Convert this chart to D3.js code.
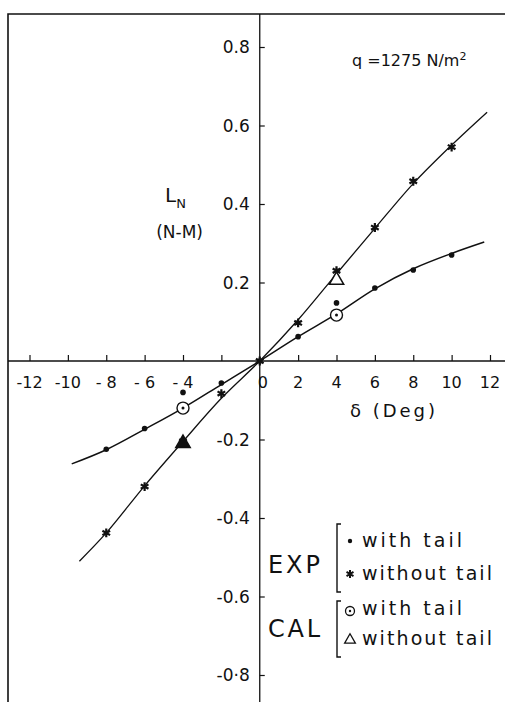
<!DOCTYPE html>
<html lang="en">
<head>
<meta charset="utf-8">
<title>Yawing moment L_N vs delta</title>
<script src="https://d3js.org/d3.v7.min.js"></script>
<style>
  body { margin: 0; background: #fff; }
  svg text { font-family: 'DejaVu Sans', sans-serif; fill: #111; }
</style>
</head>
<body>
<div id="chart"></div>
<script>
// ---- data ----
var deltaExp = [-8, -6, -4, -2, 0, 2, 4, 6, 8, 10];
var expWithTail = [-0.225, -0.172, -0.08, -0.056, 0, 0.062, 0.148, 0.186, 0.232, 0.27];
var expWithoutTail = [-0.438, -0.32, -0.205, -0.083, 0, 0.097, 0.23, 0.34, 0.458, 0.545];

var deltaCal = [-4, 4];
var calWithTail = [-0.12, 0.117];
var calWithoutTail = [-0.21, 0.206];

// faired curves drawn through the points
var fitDeltaWith = [-9.8, -8, -6, -4, -2, 0, 2, 4, 6, 8, 10, 11.7];
var fitWith = [-0.262, -0.226, -0.174, -0.12, -0.06, 0, 0.062, 0.12, 0.184, 0.235, 0.274, 0.303];
var fitDeltaWithout = [-9.4, -8, -6, -4, -2, 0, 2, 4, 6, 8, 10, 11.85];
var fitWithout = [-0.51, -0.438, -0.318, -0.205, -0.095, 0, 0.105, 0.222, 0.338, 0.452, 0.55, 0.634];

var xTicks = [-12, -10, -8, -6, -4, -2, 0, 2, 4, 6, 8, 10, 12];
var xTickLabels = ["-12", "-10", "- 8", "- 6", "- 4", "", "0", "2", "4", "6", "8", "10", "12"];
var yTicks = [-0.8, -0.6, -0.4, -0.2, 0.2, 0.4, 0.6, 0.8];
var yTickLabels = ["-0·8", "-0.6", "-0.4", "-0.2", "0.2", "0.4", "0.6", "0.8"];

// ---- layout ----
var W = 505, H = 702;
var svg = d3.select("#chart").append("svg")
  .attr("width", W).attr("height", H);

var x = d3.scaleLinear().domain([-12, 12]).range([29.5, 490]);
var y = d3.scaleLinear().domain([-0.8, 0.8]).range([675, 47]);

// frame (top and left only, like the scan)
svg.append("path")
  .attr("d", "M8,702 L8,14 L505,14")
  .attr("fill", "none").attr("stroke", "#111").attr("stroke-width", 1.6);

// x axis through zero
var xAxis = svg.append("g")
  .attr("transform", "translate(0," + y(0) + ")")
  .call(d3.axisTop(x).tickValues(xTicks).tickSize(6).tickFormat(""));
xAxis.select(".domain").attr("d", "M8,0H505").attr("stroke", "#111").attr("stroke-width", 1.6);
xAxis.selectAll(".tick line").attr("stroke", "#111").attr("stroke-width", 1.2)
  .filter(function(d) { return d === 0; }).remove();

svg.append("g").selectAll("text")
  .data(xTicks)
  .enter().append("text")
  .attr("x", function(d) { return x(d) + (d === 0 ? 3 : 0); })
  .attr("y", y(0) + 27)
  .attr("text-anchor", "middle")
  .style("font-size", "16px")
  .text(function(d, i) { return xTickLabels[i]; });

// y axis through zero
var yAxis = svg.append("g")
  .attr("transform", "translate(" + x(0) + ",0)")
  .call(d3.axisRight(y).tickValues(yTicks).tickSize(5).tickFormat(""));
yAxis.select(".domain").attr("d", "M0,14V702").attr("stroke", "#111").attr("stroke-width", 1.3);
yAxis.selectAll(".tick line").attr("stroke", "#111").attr("stroke-width", 1.2);

svg.append("g").selectAll("text")
  .data(yTicks)
  .enter().append("text")
  .attr("x", x(0) - 10)
  .attr("y", function(d) { return y(d) + 6; })
  .attr("text-anchor", "end")
  .style("font-size", "17px")
  .text(function(d, i) { return yTickLabels[i]; });

// faired curves
var line = d3.line()
  .x(function(d) { return x(d[0]); })
  .y(function(d) { return y(d[1]); })
  .curve(d3.curveCatmullRom);

svg.append("path")
  .datum(d3.zip(fitDeltaWith, fitWith))
  .attr("d", line)
  .attr("fill", "none").attr("stroke", "#111").attr("stroke-width", 1.5);

svg.append("path")
  .datum(d3.zip(fitDeltaWithout, fitWithout))
  .attr("d", line)
  .attr("fill", "none").attr("stroke", "#111").attr("stroke-width", 1.3);

// markers
var star = d3.symbol().type(d3.symbolAsterisk).size(55);
var tri = d3.symbol().type(d3.symbolTriangle).size(90);

svg.append("g").selectAll("path")
  .data(d3.zip(deltaExp, expWithoutTail))
  .enter().append("path")
  .attr("transform", function(d) { return "translate(" + x(d[0]) + "," + y(d[1]) + ")"; })
  .attr("d", star)
  .attr("fill", "none").attr("stroke", "#111").attr("stroke-width", 2.2);

svg.append("g").selectAll("circle")
  .data(d3.zip(deltaExp, expWithTail))
  .enter().append("circle")
  .attr("cx", function(d) { return x(d[0]); })
  .attr("cy", function(d) { return y(d[1]); })
  .attr("r", 2.8)
  .attr("fill", "#111");

var calC = svg.append("g").selectAll("g")
  .data(d3.zip(deltaCal, calWithTail))
  .enter().append("g")
  .attr("transform", function(d) { return "translate(" + x(d[0]) + "," + y(d[1]) + ")"; });
calC.append("circle").attr("r", 6).attr("fill", "#fff").attr("stroke", "#111").attr("stroke-width", 1.4);
calC.append("circle").attr("r", 1.5).attr("fill", "#111");

svg.append("g").selectAll("path")
  .data(d3.zip(deltaCal, calWithoutTail))
  .enter().append("path")
  .attr("transform", function(d) { return "translate(" + x(d[0]) + "," + y(d[1]) + ")"; })
  .attr("d", tri)
  .attr("fill", function(d) { return d[0] < 0 ? "#111" : "#fff"; })
  .attr("stroke", "#111").attr("stroke-width", 1.5);

// labels
svg.append("text").attr("x", 165).attr("y", 202)
  .style("font-size", "20px")
  .html("L<tspan dy='6' style='font-size:13px'>N</tspan>");
svg.append("text").attr("x", 203).attr("y", 238)
  .attr("text-anchor", "end")
  .style("font-size", "17px").text("(N-M)");

svg.append("text").attr("x", 352).attr("y", 66)
  .style("font-size", "16px")
  .html("q =1275 N/m<tspan dy='-6' style='font-size:11px'>2</tspan>");

svg.append("text").attr("x", 350).attr("y", 417)
  .attr("textLength", 85).attr("lengthAdjust", "spacing")
  .style("font-size", "18px").text("δ (Deg)");

// legend
function bracket(x0, y0, y1) {
  svg.append("path")
    .attr("d", "M" + (x0 + 4) + "," + y0 + " H" + x0 + " V" + y1 + " H" + (x0 + 4))
    .attr("fill", "none").attr("stroke", "#111").attr("stroke-width", 1.4);
}
function legendText(x0, y0, txt, len, size) {
  svg.append("text").attr("x", x0).attr("y", y0)
    .attr("textLength", len).attr("lengthAdjust", "spacing")
    .style("font-size", size + "px").text(txt);
}
legendText(268, 573, "EXP", 52, 24);
bracket(337, 524, 592);
svg.append("circle").attr("cx", 350).attr("cy", 541).attr("r", 2.2).attr("fill", "#111");
legendText(362, 547, "with tail", 100, 19);
svg.append("path").attr("transform", "translate(350,574)").attr("d", d3.symbol().type(d3.symbolAsterisk).size(45))
  .attr("fill", "none").attr("stroke", "#111").attr("stroke-width", 2);
legendText(362, 580, "without tail", 130, 19);

legendText(268, 637, "CAL", 52, 24);
bracket(337, 601, 657);
svg.append("circle").attr("cx", 350).attr("cy", 611).attr("r", 4.5).attr("fill", "none").attr("stroke", "#111").attr("stroke-width", 1.3);
svg.append("circle").attr("cx", 350).attr("cy", 611).attr("r", 1.2).attr("fill", "#111");
legendText(362, 615, "with tail", 100, 19);
svg.append("path").attr("transform", "translate(350,640)").attr("d", d3.symbol().type(d3.symbolTriangle).size(50))
  .attr("fill", "none").attr("stroke", "#111").attr("stroke-width", 1.3);
legendText(362, 645, "without tail", 130, 19);
</script>
</body>
</html>
